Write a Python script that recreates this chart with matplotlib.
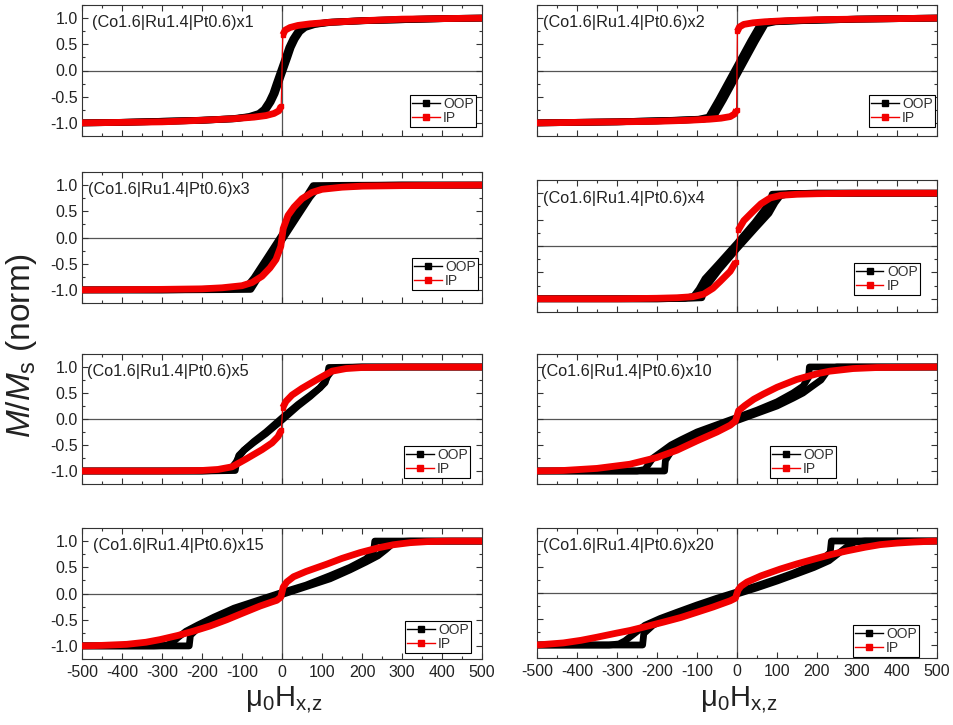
import numpy as np
import matplotlib
matplotlib.use("Agg")
import matplotlib.pyplot as plt
from matplotlib.lines import Line2D
from matplotlib.ticker import MultipleLocator

plt.rcParams["font.family"] = ["Liberation Sans", "DejaVu Sans"]
plt.rcParams["mathtext.fontset"] = "custom"
plt.rcParams["mathtext.rm"] = "Liberation Sans"
plt.rcParams["mathtext.it"] = "Liberation Sans:italic"
plt.rcParams["axes.unicode_minus"] = False

# panel titles, in reading order (row by row)
LABELS = ["(Co1.6|Ru1.4|Pt0.6)x1", "(Co1.6|Ru1.4|Pt0.6)x2",
          "(Co1.6|Ru1.4|Pt0.6)x3", "(Co1.6|Ru1.4|Pt0.6)x4",
          "(Co1.6|Ru1.4|Pt0.6)x5", "(Co1.6|Ru1.4|Pt0.6)x10",
          "(Co1.6|Ru1.4|Pt0.6)x15", "(Co1.6|Ru1.4|Pt0.6)x20"]

# ---- x1 ----
H1_OOP_UP = [-500, -400, -300, -200, -117, -77, -52, -39, -27, -17, -9, -3, 3, 9, 15, 23, 33, 45, 58, 83, 123, 203, 303, 403, 500]
M1_OOP_UP = [-1.0, -0.99, -0.97, -0.95, -0.92, -0.88, -0.82, -0.74, -0.6, -0.44, -0.26, -0.13, 0.0, 0.13, 0.26, 0.44, 0.6, 0.74, 0.82, 0.88, 0.92, 0.95, 0.97, 0.99, 1.0]
H1_OOP_DN = [500, 400, 300, 200, 117, 77, 52, 39, 27, 17, 9, 3, -3, -9, -15, -23, -33, -45, -58, -83, -123, -203, -303, -403, -500]
M1_OOP_DN = [1.0, 0.99, 0.97, 0.95, 0.92, 0.88, 0.82, 0.74, 0.6, 0.44, 0.26, 0.13, 0.0, -0.13, -0.26, -0.44, -0.6, -0.74, -0.82, -0.88, -0.92, -0.95, -0.97, -0.99, -1.0]
H1_IP = [-500, -400, -300, -200, -120, -70, -40, -20, -8, -2, 2, 8, 20, 40, 70, 120, 200, 300, 400, 500]
M1_IP = [-1.0, -0.99, -0.98, -0.95, -0.92, -0.89, -0.86, -0.82, -0.77, -0.68, 0.68, 0.77, 0.82, 0.86, 0.89, 0.92, 0.95, 0.98, 0.99, 1.0]

# ---- x2 ----
H2_OOP_UP = [-500, -300, -150, -85, -59, -34, 6, 46, 71, 96, 156, 300, 500]
M2_OOP_UP = [-1.0, -0.98, -0.95, -0.93, -0.89, -0.56, 0.0, 0.56, 0.89, 0.93, 0.95, 0.98, 1.0]
H2_OOP_DN = [500, 300, 150, 85, 59, 34, -6, -46, -71, -96, -156, -300, -500]
M2_OOP_DN = [1.0, 0.98, 0.95, 0.93, 0.89, 0.56, 0.0, -0.56, -0.89, -0.93, -0.95, -0.98, -1.0]
H2_IP = [-500, -400, -300, -200, -120, -70, -40, -17, -6, -1, 1, 6, 17, 40, 70, 120, 200, 300, 400, 500]
M2_IP = [-1.0, -0.99, -0.98, -0.97, -0.95, -0.93, -0.91, -0.88, -0.83, -0.75, 0.75, 0.83, 0.88, 0.91, 0.93, 0.95, 0.97, 0.98, 0.99, 1.0]

# ---- x3 ----
H3_OOP_UP = [-500, -300, -150, -78, -40, 0, 40, 70, 85, 100, 130, 200, 300, 500]
M3_OOP_UP = [-1.0, -1.0, -0.995, -0.99, -0.53, -0.05, 0.42, 0.77, 0.91, 0.96, 0.98, 0.99, 1.0, 1.0]
H3_OOP_DN = [500, 300, 150, 78, 40, 0, -40, -70, -85, -100, -130, -200, -300, -500]
M3_OOP_DN = [1.0, 1.0, 0.995, 0.99, 0.53, 0.05, -0.42, -0.77, -0.91, -0.96, -0.98, -0.99, -1.0, -1.0]
H3_IP = [-500, -300, -200, -150, -100, -75, -50, -30, -15, -3, 3, 15, 30, 50, 75, 100, 150, 200, 300, 500]
M3_IP = [-1.0, -0.99, -0.98, -0.96, -0.92, -0.86, -0.74, -0.58, -0.42, -0.17, 0.17, 0.42, 0.58, 0.74, 0.86, 0.92, 0.96, 0.98, 0.99, 1.0]

# ---- x4 ----
H4_OOP_UP = [-500, -200, -120, -88, -80, -45, 0, 45, 80, 95, 108, 130, 200, 500]
M4_OOP_UP = [-1.0, -1.0, -0.99, -0.98, -0.8, -0.45, -0.05, 0.33, 0.62, 0.82, 0.95, 0.99, 1.0, 1.0]
H4_OOP_DN = [500, 200, 120, 88, 80, 45, 0, -45, -80, -95, -108, -130, -200, -500]
M4_OOP_DN = [1.0, 1.0, 0.99, 0.98, 0.8, 0.45, 0.05, -0.33, -0.62, -0.82, -0.95, -0.99, -1.0, -1.0]
H4_IP = [-500, -300, -200, -150, -110, -83, -60, -42, -17, -3, 3, 17, 42, 60, 83, 110, 150, 200, 300, 500]
M4_IP = [-1.0, -1.0, -0.99, -0.98, -0.96, -0.91, -0.8, -0.67, -0.48, -0.3, 0.3, 0.48, 0.67, 0.8, 0.91, 0.96, 0.98, 0.99, 1.0, 1.0]

# ---- x5 ----
H5_OOP_UP = [-500, -200, -117, -114, -108, -95, -70, -40, 0, 40, 70, 95, 105, 115, 125, 140, 200, 500]
M5_OOP_UP = [-1.0, -1.0, -0.99, -0.85, -0.7, -0.6, -0.45, -0.28, -0.02, 0.25, 0.43, 0.6, 0.7, 0.83, 0.93, 0.98, 1.0, 1.0]
H5_OOP_DN = [500, 200, 117, 114, 108, 95, 70, 40, 0, -40, -70, -95, -105, -115, -125, -140, -200, -500]
M5_OOP_DN = [1.0, 1.0, 0.99, 0.85, 0.7, 0.6, 0.45, 0.28, 0.02, -0.25, -0.43, -0.6, -0.7, -0.83, -0.93, -0.98, -1.0, -1.0]
H5_IP = [-500, -300, -200, -160, -125, -90, -50, -25, -10, -2, 2, 10, 25, 50, 90, 125, 160, 200, 300, 500]
M5_IP = [-1.0, -1.0, -0.99, -0.97, -0.92, -0.77, -0.59, -0.46, -0.34, -0.22, 0.22, 0.34, 0.46, 0.59, 0.77, 0.92, 0.97, 0.99, 1.0, 1.0]

# ---- x10 ----
H10_OOP_UP = [-500, -250, -181, -179, -165, -140, -100, -50, 0, 50, 100, 140, 165, 190, 210, 222, 230, 250, 500]
M10_OOP_UP = [-1.0, -1.0, -1.0, -0.8, -0.63, -0.5, -0.33, -0.17, -0.03, 0.11, 0.25, 0.4, 0.5, 0.64, 0.75, 0.88, 0.97, 1.0, 1.0]
H10_OOP_DN = [500, 250, 181, 179, 165, 140, 100, 50, 0, -50, -100, -140, -165, -190, -210, -222, -230, -250, -500]
M10_OOP_DN = [1.0, 1.0, 1.0, 0.8, 0.63, 0.5, 0.33, 0.17, 0.03, -0.11, -0.25, -0.4, -0.5, -0.64, -0.75, -0.88, -0.97, -1.0, -1.0]
H10_IP = [-500, -434, -350, -268, -200, -150, -100, -50, -17, -4, 4, 20, 42, 66, 100, 149, 200, 232, 290, 350, 500]
M10_IP = [-1.0, -0.99, -0.95, -0.87, -0.74, -0.6, -0.42, -0.25, -0.12, -0.04, 0.16, 0.26, 0.38, 0.48, 0.61, 0.76, 0.87, 0.92, 0.97, 0.99, 1.0]

# ---- x15 ----
H15_OOP_UP = [-500, -300, -232, -229, -210, -170, -120, -60, 0, 60, 120, 170, 210, 240, 260, 275, 290, 320, 500]
M15_OOP_UP = [-1.0, -1.0, -1.0, -0.8, -0.66, -0.5, -0.34, -0.16, -0.02, 0.13, 0.28, 0.45, 0.6, 0.72, 0.84, 0.94, 0.99, 1.0, 1.0]
H15_OOP_DN = [500, 300, 232, 229, 210, 170, 120, 60, 0, -60, -120, -170, -210, -240, -260, -275, -290, -320, -500]
M15_OOP_DN = [1.0, 1.0, 1.0, 0.8, 0.66, 0.5, 0.34, 0.16, 0.02, -0.13, -0.28, -0.45, -0.6, -0.72, -0.84, -0.94, -0.99, -1.0, -1.0]
H15_IP = [-500, -450, -388, -340, -305, -260, -222, -180, -138, -100, -55, -25, -13, -3, 3, 12, 29, 60, 112, 150, 195, 240, 278, 320, 362, 420, 500]
M15_IP = [-1.0, -0.99, -0.97, -0.93, -0.88, -0.8, -0.72, -0.62, -0.5, -0.38, -0.24, -0.16, -0.13, -0.07, 0.12, 0.22, 0.32, 0.42, 0.56, 0.67, 0.78, 0.87, 0.93, 0.97, 0.99, 1.0, 1.0]

# ---- x20 ----
H20_OOP_UP = [-500, -300, -236, -233, -210, -184, -140, -100, -50, 0, 50, 100, 150, 192, 230, 260, 280, 295, 320, 500]
M20_OOP_UP = [-1.0, -1.0, -1.0, -0.78, -0.62, -0.52, -0.38, -0.27, -0.14, -0.02, 0.1, 0.23, 0.37, 0.49, 0.62, 0.8, 0.92, 0.98, 1.0, 1.0]
H20_OOP_DN = [500, 300, 236, 233, 210, 184, 140, 100, 50, 0, -50, -100, -150, -192, -230, -260, -280, -295, -320, -500]
M20_OOP_DN = [1.0, 1.0, 1.0, 0.78, 0.62, 0.52, 0.38, 0.27, 0.14, 0.02, -0.1, -0.23, -0.37, -0.49, -0.62, -0.8, -0.92, -0.98, -1.0, -1.0]
H20_IP = [-500, -434, -390, -350, -300, -267, -225, -184, -140, -100, -60, -17, -4, 3, 10, 25, 60, 108, 150, 192, 235, 275, 320, 358, 400, 442, 500]
M20_IP = [-1.0, -0.96, -0.91, -0.85, -0.77, -0.72, -0.64, -0.56, -0.47, -0.37, -0.27, -0.15, -0.1, 0.06, 0.13, 0.21, 0.33, 0.46, 0.56, 0.65, 0.74, 0.81, 0.88, 0.93, 0.96, 0.98, 1.0]

OOP_UP = [(H1_OOP_UP, M1_OOP_UP), (H2_OOP_UP, M2_OOP_UP), (H3_OOP_UP, M3_OOP_UP), (H4_OOP_UP, M4_OOP_UP),
          (H5_OOP_UP, M5_OOP_UP), (H10_OOP_UP, M10_OOP_UP), (H15_OOP_UP, M15_OOP_UP), (H20_OOP_UP, M20_OOP_UP)]
OOP_DN = [(H1_OOP_DN, M1_OOP_DN), (H2_OOP_DN, M2_OOP_DN), (H3_OOP_DN, M3_OOP_DN), (H4_OOP_DN, M4_OOP_DN),
          (H5_OOP_DN, M5_OOP_DN), (H10_OOP_DN, M10_OOP_DN), (H15_OOP_DN, M15_OOP_DN), (H20_OOP_DN, M20_OOP_DN)]
IP = [(H1_IP, M1_IP), (H2_IP, M2_IP), (H3_IP, M3_IP), (H4_IP, M4_IP),
      (H5_IP, M5_IP), (H10_IP, M10_IP), (H15_IP, M15_IP), (H20_IP, M20_IP)]

# layout in pixels of the 954x725 reference: (left, top, bottom), width 400
W, HGT = 954, 725
PANEL_PX = [(82, 5, 136), (537, 5, 136), (82, 172, 303), (537, 180, 312),
            (82, 354, 484), (537, 354, 484), (82, 528, 659), (537, 528, 658)]
LEG_ANCHOR = [(0.985, 0.07), (0.995, 0.07), (0.99, 0.10), (0.957, 0.13),
              (0.97, 0.046), (0.7475, 0.046), (0.9725, 0.046), (0.955, 0.01)]
TXT_X = [0.025, 0.014, 0.014, 0.016, 0.012, 0.01, 0.027, 0.014]

SPINE = "#333333"
RED = "#f20000"


def draw_branch(ax, H, M, color, z):
    """thick band for the dense data, thin connector across field jumps"""
    H = np.asarray(H, float)
    M = np.asarray(M, float)
    jumps = np.where((np.abs(np.diff(M)) > 0.4) & (np.abs(np.diff(H)) < 10))[0]
    start = 0
    for j in list(jumps) + [len(H) - 1]:
        ax.plot(H[start:j + 1], M[start:j + 1], color=color, lw=4.9,
                solid_joinstyle="round", solid_capstyle="butt", zorder=z)
        if j < len(H) - 1:
            ax.plot(H[j:j + 2], M[j:j + 2], color=color, lw=0.9, marker="s",
                    ms=3.5, zorder=z)
        start = j + 1


fig = plt.figure(figsize=(W / 100, HGT / 100), dpi=100)

for i in range(8):
    left, top, bot = PANEL_PX[i]
    ax = fig.add_axes([left / W, 1 - bot / HGT, 400 / W, (bot - top) / HGT])
    ax.axhline(0, color="#555555", lw=0.9, zorder=1)
    ax.axvline(0, color="#555555", lw=0.9, zorder=1)

    draw_branch(ax, *OOP_UP[i], "black", 2)
    draw_branch(ax, *OOP_DN[i], "black", 2)
    draw_branch(ax, *IP[i], RED, 3)

    ax.set_xlim(-500, 500)
    ax.set_ylim(-1.25, 1.25)
    ax.xaxis.set_major_locator(MultipleLocator(100))
    ax.xaxis.set_minor_locator(MultipleLocator(50))
    ax.yaxis.set_major_locator(MultipleLocator(0.5))
    ax.yaxis.set_minor_locator(MultipleLocator(0.25))
    ax.tick_params(which="both", direction="in", top=True, right=True,
                   color=SPINE, width=0.8, labelsize=11.5, labelcolor="#222222")
    ax.tick_params(which="major", length=4)
    ax.tick_params(which="minor", length=2)
    ax.tick_params(axis="y", pad=3)
    ax.tick_params(axis="x", pad=4)
    if i % 2 == 1:
        ax.tick_params(labelleft=False)
    if i < 6:
        ax.tick_params(labelbottom=False)
    for s in ax.spines.values():
        s.set_color(SPINE)
        s.set_linewidth(0.8)

    ax.text(TXT_X[i], 0.863, LABELS[i], transform=ax.transAxes, fontsize=11.7,
            va="center", ha="left", color="#222222")

    handles = [Line2D([], [], color="black", lw=1, marker="s", ms=4),
               Line2D([], [], color=RED, lw=1, marker="s", ms=4)]
    leg = ax.legend(handles, ["OOP", "IP"], loc="lower right",
                    bbox_to_anchor=LEG_ANCHOR[i], borderaxespad=0, fontsize=10,
                    handlelength=2.0, handletextpad=0.25, borderpad=0.15,
                    labelspacing=0.0, fancybox=False, framealpha=1)
    leg.get_frame().set_edgecolor("black")
    leg.get_frame().set_linewidth(0.8)
    for t in leg.get_texts():
        t.set_color("#333333")

fig.text(22 / W, 1 - 345 / HGT, r"$\mathit{M/M}_{\mathregular{s}}$ (norm)",
         rotation=90, fontsize=24, ha="center", va="center", color="#222222")
for cx in (284, 739):
    fig.text(cx / W, 1 - 700 / HGT, r"$\mathregular{μ_0H_{x{,}z}}$",
             fontsize=21, ha="center", va="center", color="#222222")

fig.savefig("out.png", dpi=100)
